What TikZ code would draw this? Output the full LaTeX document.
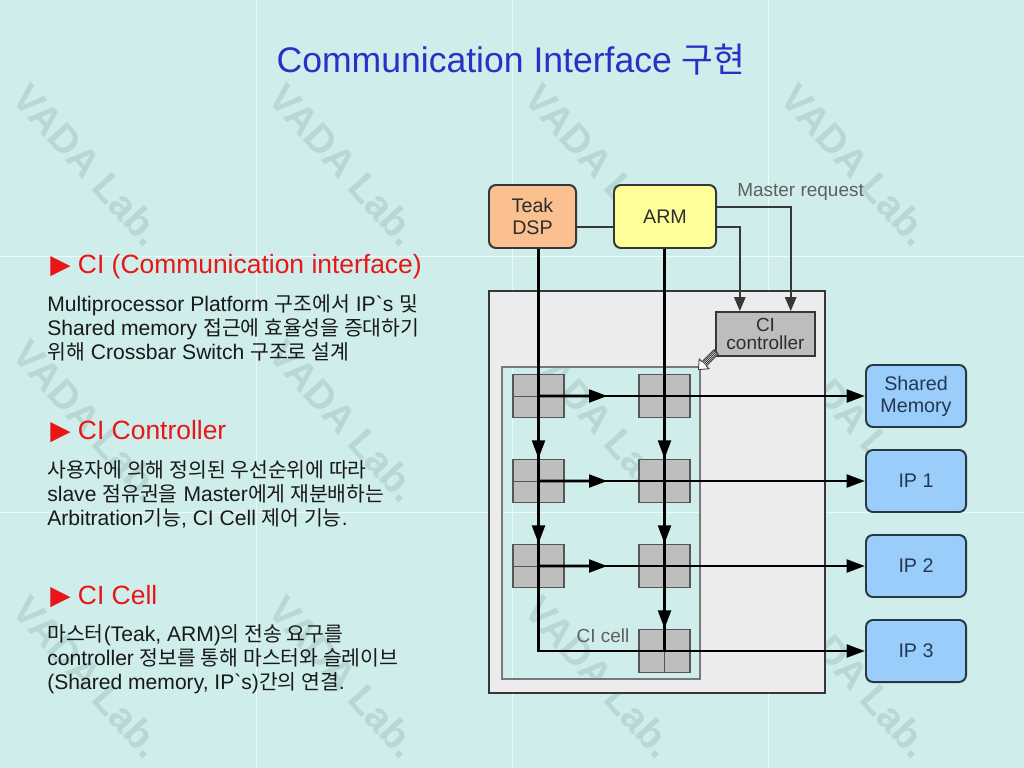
\documentclass[tikz,border=0pt]{standalone}
\usepackage{fontspec}
\usetikzlibrary{arrows.meta,calc}

\newfontfamily\latfont{Liberation Sans}
\newfontfamily\krfont{Noto Sans CJK KR}[Scale=0.97]
\newfontfamily\trifont{DejaVu Sans}
\newcommand\kr[1]{{\krfont #1}}

\definecolor{slidebg}{RGB}{207,237,234}
\definecolor{wmarkteal}{RGB}{184,216,213}
\definecolor{teakorange}{RGB}{250,192,143}
\definecolor{armyellow}{RGB}{255,255,153}
\definecolor{slaveblue}{RGB}{155,205,250}
\definecolor{boxline}{RGB}{55,55,55}
\definecolor{boxtext}{RGB}{45,45,45}
\definecolor{slaveline}{RGB}{40,55,70}
\definecolor{slavetext}{RGB}{35,55,80}
\definecolor{ctrlgray}{RGB}{189,189,189}
\definecolor{cellgray}{RGB}{190,190,190}
\definecolor{cellline}{RGB}{85,85,85}
\definecolor{panelgray}{RGB}{236,235,237}
\definecolor{innerline}{RGB}{120,120,120}
\definecolor{titleblue}{RGB}{45,45,200}
\definecolor{headred}{RGB}{232,22,22}
\definecolor{bodyblack}{RGB}{25,25,25}
\definecolor{labelgray}{RGB}{95,95,95}

\tikzset{
  master/.style={draw=boxline, line width=1.4pt, rounded corners=5pt, text=boxtext,
    align=center, inner sep=0pt, minimum height=1.575cm,
    font=\latfont\fontsize{14}{15.6}\selectfont},
  slave/.style={draw=slaveline, fill=slaveblue, line width=1.4pt, rounded corners=5pt,
    text=slavetext, align=center, inner sep=0pt, minimum width=2.5cm, minimum height=1.55cm,
    font=\latfont\fontsize{14}{15.6}\selectfont},
  ctrlbox/.style={draw=boxline, fill=ctrlgray, line width=1.2pt, text=boxtext, align=center,
    inner sep=0pt, minimum width=2.475cm, minimum height=1.1cm,
    font=\latfont\fontsize{13.5}{12.8}\selectfont},
  cibox/.style={draw=cellline, fill=cellgray, line width=1.1pt, inner sep=0pt,
    minimum width=1.275cm, minimum height=1.075cm,
    path picture={\draw[cellline, line width=0.6pt]
      (path picture bounding box.north) -- (path picture bounding box.south)
      (path picture bounding box.west) -- (path picture bounding box.east);}},
  bus/.style={line width=2.1pt, >={Triangle[length=13pt,width=9pt]}},
  req/.style={line width=1.4pt, boxline, >={Triangle[length=10pt,width=8pt]}},
  tag/.style={text=labelgray, inner sep=0pt, font=\latfont\fontsize{13.5}{14}\selectfont},
  heading/.style={text=headred, inner sep=0pt, anchor=west,
    font=\latfont\fontsize{18.8}{22}\selectfont},
  para/.style={text=bodyblack, align=left, inner sep=0pt, anchor=west,
    font=\latfont\fontsize{15}{17.1}\selectfont},
  wmark/.style={text=wmarkteal, rotate=-48, inner sep=0pt,
    font=\latfont\bfseries\fontsize{28}{28}\selectfont},
  seam/.style={white, opacity=0.7, line width=0.5pt},
}

\begin{document}
\begin{tikzpicture}[x=0.025cm,y=-0.025cm]
  \fill[slidebg] (0,0) rectangle (1024,768);
  \useasboundingbox (0,0) rectangle (1024,768);
  \clip (0,0) rectangle (1024,768);

  % background tiles
  \foreach \s in {256,512,768}
    \draw[seam] (\s,0) -- (\s,768);
  \foreach \s in {256,512}
    \draw[seam] (0,\s) -- (1024,\s);
  \foreach \i in {0,...,3}
    \foreach \j in {0,1,2}
      \node[wmark] (wm\i\j) at (88+256*\i,165+256*\j) {VADA Lab.};

  % title and text
  \node[text=titleblue, font=\latfont\fontsize{25.3}{28}\selectfont] (title) at (511,60)
    {Communication Interface \kr{구현}};

  \node[heading] (h1) at (50,267) {{\trifont ▶} CI (Communication interface)};
  \node[para] (p1) at (47,328) {Multiprocessor Platform \kr{구조에서} IP`s \kr{및}\\
    Shared memory \kr{접근에 효율성을 증대하기}\\
    \kr{위해} Crossbar Switch \kr{구조로 설계}};

  \node[heading] (h2) at (50,432) {{\trifont ▶} CI Controller};
  \node[para] (p2) at (47,494) {\kr{사용자에 의해 정의된 우선순위에 따라}\\
    slave \kr{점유권을} Master\kr{에게 재분배하는}\\
    Arbitration\kr{기능}, CI Cell \kr{제어 기능}.};

  \node[heading] (h3) at (50,597) {{\trifont ▶} CI Cell};
  \node[para] (p3) at (47,659) {\kr{마스터}(Teak, ARM)\kr{의 전송 요구를}\\
    controller \kr{정보를 통해 마스터와 슬레이브}\\
    (Shared memory, IP`s)\kr{간의 연결}.};

  % crossbar panel
  \fill[panelgray, even odd rule] (489,291) rectangle (825,693) (502,367) rectangle (700,679);
  \draw[boxline, line width=1.4pt] (489,291) rectangle (825,693);
  \draw[innerline, line width=1.1pt] (502,367) rectangle (700,679);

  \node[master, fill=teakorange, minimum width=2.175cm] (teak) at (532.5,216.5) {Teak\\DSP};
  \node[master, fill=armyellow, minimum width=2.55cm] (arm) at (665,216.5) {ARM};
  \node[ctrlbox] (ctrl) at (765.5,334) {CI\\controller};
  \node[tag, anchor=west] (mreq) at (737,192) {Master request};
  \node[tag] (celltag) at (603,636) {CI cell};

  \node[slave] (shm) at (916,396) {Shared\\Memory};
  \node[slave] (ip1) at (916,481) {IP 1};
  \node[slave] (ip2) at (916,566) {IP 2};
  \node[slave] (ip3) at (916,651) {IP 3};

  \foreach \r/\ry in {1/396,2/481,3/566}
    \node[cibox] (c\r1) at (538.5,\ry) {};
  \foreach \r/\ry in {1/396,2/481,3/566,4/651}
    \node[cibox] (c\r2) at (664.5,\ry) {};

  % master request
  \draw[req] ([yshift=-7.5pt]teak.east) -- ([yshift=-7.5pt]arm.west);
  \draw[req,->] ([yshift=6.8pt]arm.east) -| ($(ctrl.north west)!0.75!(ctrl.north east)$);
  \draw[req,->] ([yshift=-7.5pt]arm.east) -| ($(ctrl.north west)!0.245!(ctrl.north east)$);

  % grant arrow
  \begin{scope}[shift={(ctrl.south west)}]
    \filldraw[fill=white, draw=boxline, line width=0.6pt]
      (3.1,-2.9) -- (-8.9,9.1) -- (-6.1,11.9) -- (-16.7,12.7)
      -- (-15.9,2.1) -- (-13.1,4.9) -- (-1.1,-7.1) -- cycle;
    \draw[boxline, line width=0.6pt] (2.1,-3.9) -- (-9.9,8.1);
    \draw[boxline, line width=0.6pt] (1,-5) -- (-11,7);
    \draw[boxline, line width=0.6pt] (-0.1,-6.1) -- (-12.1,5.9);
  \end{scope}

  % crossbar buses
  \coordinate (turn) at (c31 |- c42);
  \draw[bus,->] (teak.south -| c11) -- (turn) -- (ip3.west);
  \draw[bus] (arm.south -| c12) -- (c42.center);
  \draw[bus,->] (c11.center) -- (shm.west);
  \draw[bus,->] (c21.center) -- (ip1.west);
  \draw[bus,->] (c31.center) -- (ip2.west);
  \foreach \a/\b in {11/21,21/31,12/22,22/32,32/42}
    \draw[bus,->] (c\a.center) -- (c\b.north);
  \foreach \r in {1,2,3}
    \draw[bus,->] (c\r1.center) -- ($(c\r1.east)!0.58!(c\r2.west)$);
\end{tikzpicture}
\end{document}
